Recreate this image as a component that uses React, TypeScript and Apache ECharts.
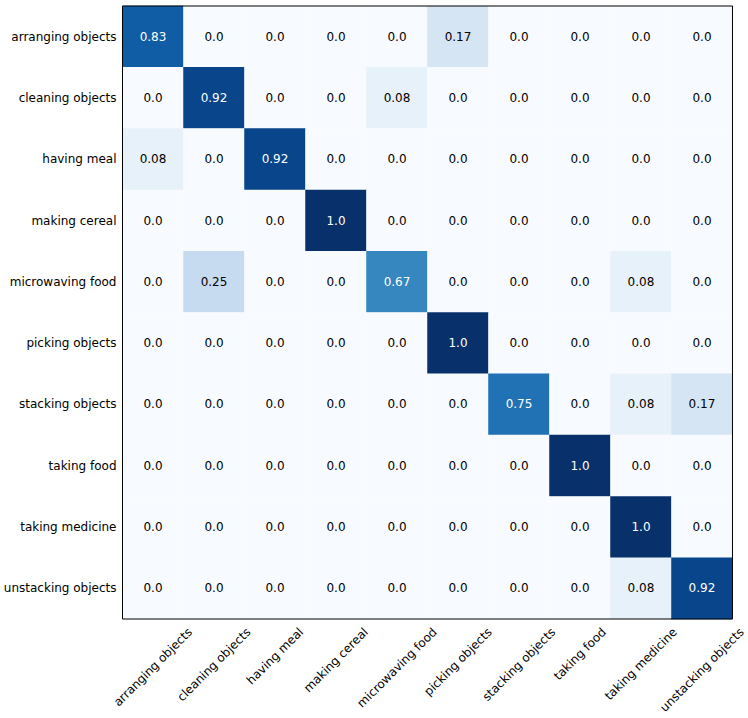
import React, { useEffect, useRef } from "react";
import * as echarts from "echarts";

const categories = [
  "arranging objects",
  "cleaning objects",
  "having meal",
  "making cereal",
  "microwaving food",
  "picking objects",
  "stacking objects",
  "taking food",
  "taking medicine",
  "unstacking objects",
];

const rowArranging = [0.83, 0, 0, 0, 0, 0.17, 0, 0, 0, 0];
const rowCleaning = [0, 0.92, 0, 0, 0.08, 0, 0, 0, 0, 0];
const rowHaving = [0.08, 0, 0.92, 0, 0, 0, 0, 0, 0, 0];
const rowCereal = [0, 0, 0, 1.0, 0, 0, 0, 0, 0, 0];
const rowMicrowaving = [0, 0.25, 0, 0, 0.67, 0, 0, 0, 0.08, 0];
const rowPicking = [0, 0, 0, 0, 0, 1.0, 0, 0, 0, 0];
const rowStacking = [0, 0, 0, 0, 0, 0, 0.75, 0, 0.08, 0.17];
const rowTakingFood = [0, 0, 0, 0, 0, 0, 0, 1.0, 0, 0];
const rowMedicine = [0, 0, 0, 0, 0, 0, 0, 0, 1.0, 0];
const rowUnstacking = [0, 0, 0, 0, 0, 0, 0, 0, 0.08, 0.92];

const matrix = [
  rowArranging,
  rowCleaning,
  rowHaving,
  rowCereal,
  rowMicrowaving,
  rowPicking,
  rowStacking,
  rowTakingFood,
  rowMedicine,
  rowUnstacking,
];

const blues = [
  "#f7fbff",
  "#deebf7",
  "#c6dbef",
  "#9ecae1",
  "#6baed6",
  "#4292c6",
  "#2171b5",
  "#08519c",
  "#08306b",
];

const fmt = (v: number) => (v === 0 || v === 1 ? v.toFixed(1) : String(v));

const FONT = "DejaVu Sans";
const FS = 12;

function measure(text: string): number {
  const c = document.createElement("canvas");
  const ctx = c.getContext("2d");
  if (!ctx) return text.length * FS * 0.55;
  ctx.font = `${FS}px "${FONT}"`;
  return ctx.measureText(text).width;
}

export default function App() {
  const ref = useRef<HTMLDivElement>(null);
  useEffect(() => {
    if (!ref.current) return;
    const chart = echarts.init(ref.current, undefined, { renderer: "svg" });
    const data: any[] = [];
    matrix.forEach((row, r) => {
      row.forEach((v, c) => {
        data.push({
          value: [c, r, v],
          label: { color: v > 0.5 ? "#ffffff" : "#000000" },
        });
      });
    });
    // rotated labels centred under their ticks (matplotlib ha="center")
    const textH = 14;
    const rich: Record<string, any> = {};
    categories.forEach((cat, i) => {
      const w = measure(cat);
      const p = 0.5 * (w + textH);
      rich["r" + i] = {
        fontSize: FS,
        fontFamily: FONT,
        color: "#000",
        padding: [p, p, 0, 0],
      };
    });
    const tickIn = { inside: true, length: 4, alignWithLabel: true, lineStyle: { color: "#000" } };
    const tickOut = { inside: false, length: 4, alignWithLabel: true, lineStyle: { color: "#000" } };
    chart.setOption({
      animation: false,
      textStyle: { fontFamily: FONT },
      grid: {
        left: 122.5,
        top: 6,
        width: 613.5,
        height: 613,
        show: true,
        borderColor: "#000",
        borderWidth: 1,
        backgroundColor: "transparent",
        z: 10,
      },
      xAxis: [
        {
          type: "category",
          data: categories,
          position: "bottom",
          axisLine: { show: false },
          axisTick: tickIn,
          axisLabel: {
            rotate: 45,
            align: "center",
            verticalAlign: "middle",
            margin: 6,
            interval: 0,
            formatter: (val: string, idx: number) => `{r${idx}|${val}}`,
            rich,
          },
          splitLine: { show: false },
          z: 10,
        },
        {
          type: "category",
          data: categories,
          position: "top",
          axisLine: { show: false },
          axisTick: tickIn,
          axisLabel: { show: false },
          z: 10,
        },
      ],
      yAxis: [
        {
          type: "category",
          data: categories,
          inverse: true,
          position: "left",
          axisLine: { show: false },
          axisTick: tickOut,
          axisLabel: { fontSize: FS, color: "#000", margin: 6, fontFamily: FONT, interval: 0 },
          z: 10,
        },
        {
          type: "category",
          data: categories,
          inverse: true,
          position: "right",
          axisLine: { show: false },
          axisTick: tickIn,
          axisLabel: { show: false },
          z: 10,
        },
      ],
      visualMap: {
        show: false,
        min: 0,
        max: 1,
        dimension: 2,
        inRange: { color: blues },
      },
      series: [
        {
          type: "heatmap",
          data,
          label: {
            show: true,
            fontSize: FS,
            fontFamily: FONT,
            formatter: (p: any) => fmt(p.value[2]),
          },
          itemStyle: { borderWidth: 0 },
          emphasis: { disabled: true },
        },
      ],
    });
    return () => chart.dispose();
  }, []);
  return (
    <div
      ref={ref}
      style={{ position: "fixed", left: 0, top: 0, width: 748, height: 718, background: "#fff" }}
    />
  );
}
